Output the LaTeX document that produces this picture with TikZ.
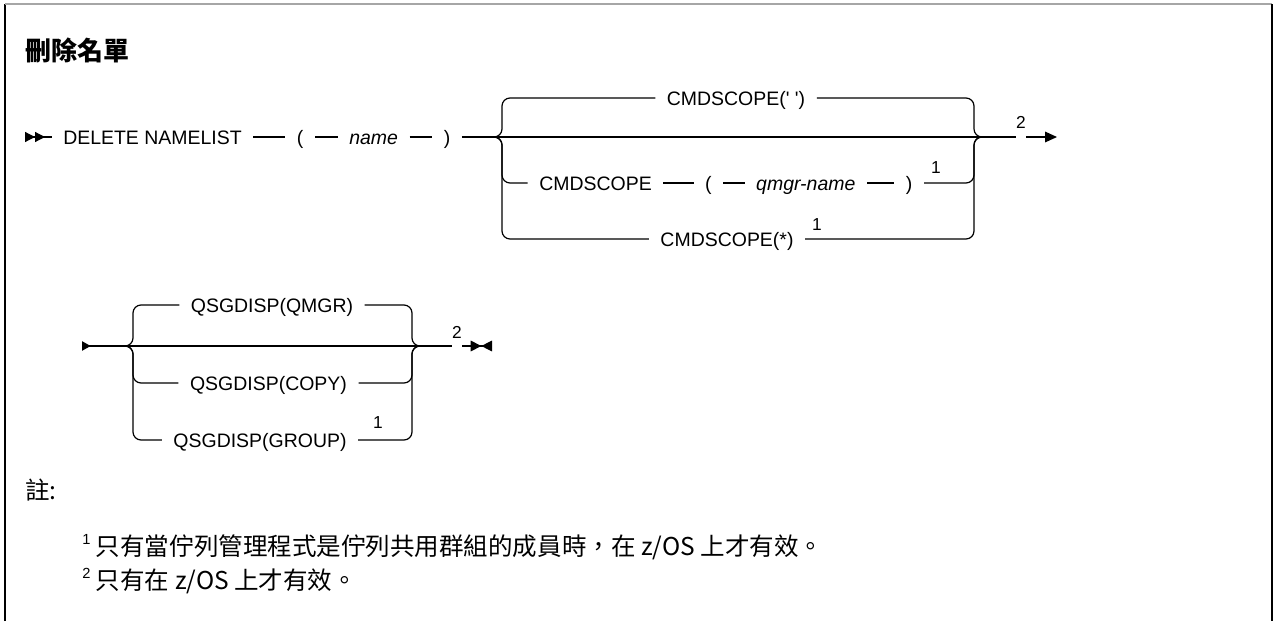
\documentclass[tikz,border=0pt]{standalone}
\usepackage{fontspec}
\newfontfamily\rdfont{Liberation Sans}
\newfontfamily\cjk{Noto Sans CJK TC}
\usetikzlibrary{arrows.meta,positioning}

\tikzset{
  kw/.style={font=\rdfont\fontsize{14.6pt}{16pt}\selectfont, inner xsep=8.5pt, inner ysep=0pt, text height=10.5pt, text depth=0pt},
  var/.style={kw, font=\rdfont\itshape\fontsize{14.6pt}{16pt}\selectfont},
  fnmark/.style={font=\rdfont\fontsize{13pt}{14pt}\selectfont, inner sep=0pt},
  rail/.style={line width=0.9pt, rounded corners=6pt},
  note/.style={font=\cjk\fontsize{18.4pt}{22pt}\selectfont, inner sep=0pt, anchor=west},
}
\newcommand{\notemark}[1]{\raisebox{.45em}{\rdfont\fontsize{11pt}{11pt}\selectfont #1}}

\begin{document}
\begin{tikzpicture}[x=0.75pt, y=-0.75pt]
    \useasboundingbox (0,0) rectangle (1274,621);
    \draw[line width=1.5pt] (5,621) -- (5,4);
    \draw[line width=1.5pt, gray!70] (5,4) -- (1272,4);
    \draw[line width=1.5pt] (1272,4) -- (1272,621);

    \node[anchor=west, inner sep=0pt, font=\cjk\bfseries\fontsize{19.5pt}{22pt}\selectfont] (title) at (25,50) {刪除名單};

    % first rail
    \coordinate (s1) at (25,137);
    \node[kw] (del) at (152.5,137) {DELETE NAMELIST};
    \node[kw, right=24pt of del] (lp) {(};
    \node[var, right=17pt of lp] (nm) {name};
    \node[kw, right=17pt of nm] (rp) {)};
    \coordinate (j1) at (494,137);
    \coordinate (lb) at (502,137);
    \coordinate (rb) at (974,137);
    \coordinate (j2) at (983,137);
    \coordinate (e1) at (1057,137);

    \node[kw] (cs1) at (736,98) {CMDSCOPE(' ')};
    \node[kw] (cs2) at (595.5,183) {CMDSCOPE};
    \node[kw, right=22.7pt of cs2] (lp2) {(};
    \node[var, right=16pt of lp2] (qm) {qmgr-name};
    \node[kw, right=20.5pt of qm] (rp2) {)};
    \node[kw] (cs3) at (727,239) {CMDSCOPE(*)};
    \node[fnmark] (m1a) at (936,168) {1};
    \node[fnmark] (m1b) at (817,225) {1};
    \node[fnmark] (m2a) at (1021,122) {2};

    \draw[rail, {Triangle[reversed,length=7.5pt,width=7.5pt]Triangle[reversed,length=7.5pt,width=7.5pt]}-] (s1) -- (del);
    \draw[rail] (del) -- (lp);
    \draw[rail] (lp) -- (nm);
    \draw[rail] (nm) -- (rp);
    \draw[rail] (rp) -- (j1);
    \draw[rail] (j1) -- (j2);
    \draw[rail] (cs1) -| (lb) -- (j1);
    \draw[rail] (cs2) -| (lb) -- (j1);
    \draw[rail] (cs3) -| (lb) -- (j1);
    \draw[rail] (cs2) -- (lp2);
    \draw[rail] (lp2) -- (qm);
    \draw[rail] (qm) -- (rp2);
    \draw[rail] (cs1) -| (rb) -- (j2);
    \draw[rail] (rp2) -| (rb) -- (j2);
    \draw[rail] (cs3) -| (rb) -- (j2);
    \draw[rail] (j2) -- (m2a.west |- j2);
    \draw[rail, -{Triangle[length=9pt,width=8pt]}] (m2a.east |- j2) -- (e1);

    % second rail
    \coordinate (s2) at (82,346);
    \coordinate (j3) at (125,346);
    \coordinate (lb2) at (133,346);
    \coordinate (rb2) at (412,346);
    \coordinate (j4) at (420,346);
    \coordinate (e2) at (492,346);

    \node[kw] (qs1) at (272,305) {QSGDISP(QMGR)};
    \node[kw] (qs2) at (268.5,383) {QSGDISP(COPY)};
    \node[kw] (qs3) at (260,440) {QSGDISP(GROUP)};
    \node[fnmark] (m1c) at (378,423) {1};
    \node[fnmark] (m2b) at (457,332) {2};

    \draw[rail, {Triangle[reversed,length=6.5pt,width=7pt]}-] (s2) -- (j3);
    \draw[rail] (j3) -- (j4);
    \draw[rail] (qs1) -| (lb2) -- (j3);
    \draw[rail] (qs2) -| (lb2) -- (j3);
    \draw[rail] (qs3) -| (lb2) -- (j3);
    \draw[rail] (qs1) -| (rb2) -- (j4);
    \draw[rail] (qs2) -| (rb2) -- (j4);
    \draw[rail] (qs3) -| (rb2) -- (j4);
    \draw[rail] (j4) -- (m2b.west |- j4);
    \draw[rail, -{Triangle[length=8pt,width=8pt]Triangle[reversed,length=8pt,width=8pt]}] (m2b.east |- j4) -- (e2);

    % notes
    \node[note] (nt) at (25,490) {註:};
    \node[note] (fn1) at (82,547) {\notemark{1} 只有當佇列管理程式是佇列共用群組的成員時，在 z/OS 上才有效。};
    \node[note] (fn2) at (82,581) {\notemark{2} 只有在 z/OS 上才有效。};
\end{tikzpicture}
\end{document}
